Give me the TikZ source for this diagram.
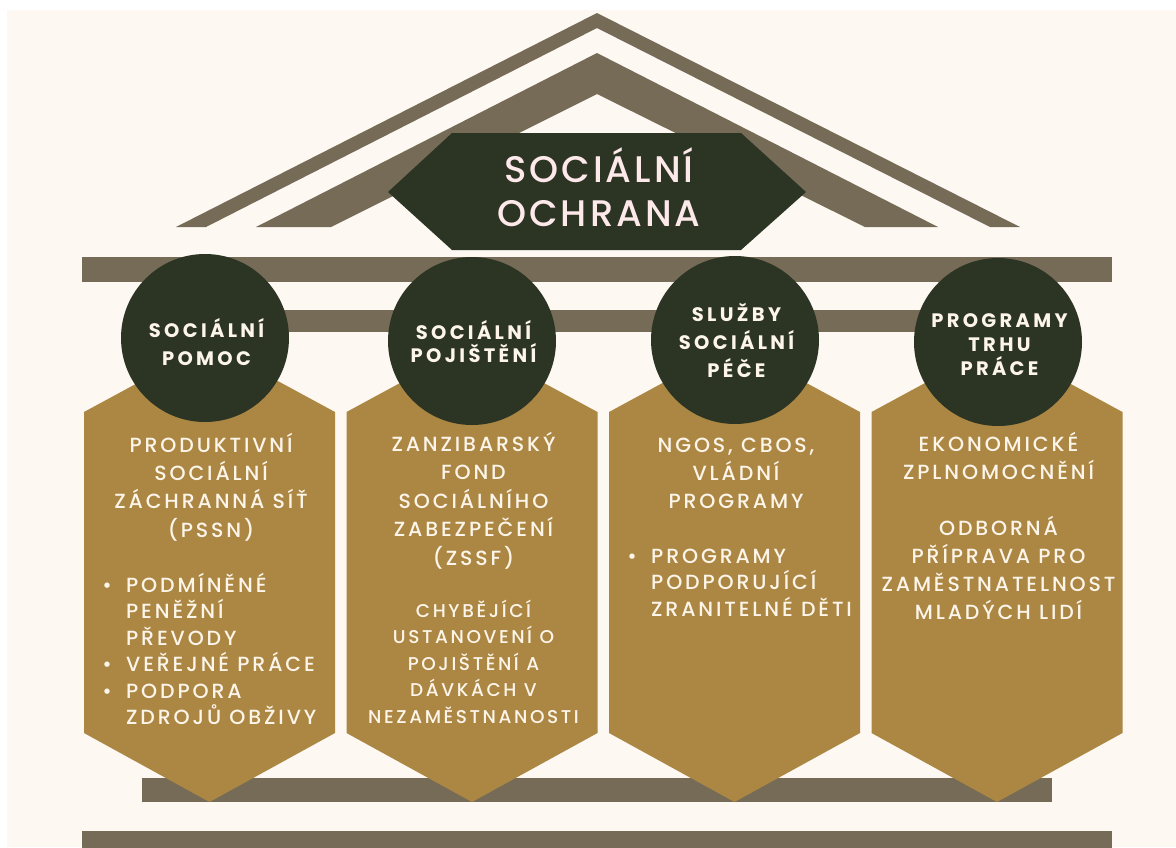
\documentclass[tikz,border=0pt]{standalone}
\usepackage{fontspec}
\setmainfont{Poppins}
\newfontfamily\boxfont[LetterSpace=14]{Poppins Medium}
\newfontfamily\circfont[LetterSpace=17]{Poppins}
\newfontfamily\titlefont[LetterSpace=8]{Poppins Medium}
\definecolor{cream}{HTML}{FDF8F2}
\definecolor{beamc}{HTML}{766B57}
\definecolor{gold}{HTML}{AB8743}
\definecolor{dark}{HTML}{2C3424}
\definecolor{txtc}{HTML}{FDF5EA}
\definecolor{titlec}{HTML}{FDE9EA}
\tikzset{
  beam/.style={fill=beamc},
  pillar/.style={fill=gold},
  medal/.style={circle, fill=dark, minimum size=168pt, inner sep=0pt},
  boxtxt/.style={text=txtc, font=\boxfont\fontsize{20.5}{28.3}\selectfont, align=center, inner sep=0pt, anchor=base},
  listtxt/.style={text=txtc, font=\boxfont\fontsize{20.5}{26.5}\selectfont, align=left, inner sep=0pt, anchor=base west},
  dotmark/.style={text=txtc, font=\boxfont\fontsize{20.5}{26.5}\selectfont, inner sep=0pt, anchor=base},
  circtxt/.style={text=txtc, font=\circfont\bfseries\fontsize{19.5}{28}\selectfont, align=center, inner sep=0pt, anchor=base},
  titletxt/.style={text=titlec, font=\titlefont\fontsize{37}{44}\selectfont, align=center, inner sep=0pt, anchor=base},
}
\begin{document}
\begin{tikzpicture}[x=1pt,y=-1pt]
\useasboundingbox (0,0) rectangle (1176,847);
\fill[white] (0,0) rectangle (1176,847);
\fill[cream] (7,10) rectangle (1176,847);
% roof
\fill[beamc] (176,227) -- (597,13) -- (1020,227) -- (990,227) -- (597,28) -- (206,227) -- cycle;
\fill[beamc] (256,227) -- (597,53) -- (938,227) -- (865,227) -- (597,94) -- (331,227) -- cycle;
% title
\fill[dark] (452,133) -- (741,133) -- (806,192) -- (741,250) -- (452,250) -- (388,192) -- cycle;
\node[titletxt] (title) at (599,226) {SOCIÁLNÍ\\OCHRANA};
% beams
\fill[beam] (82,257) rectangle (1112,282);
\fill[beam] (145,310) rectangle (1050,332);
\fill[beam] (142,778) rectangle (1052,802);
\fill[beam] (82,831) rectangle (1112,848);
% pillars
\foreach \cx in {209.5,472,734.5,997}{
  \fill[pillar] (\cx,344) -- (\cx+125.5,412) -- (\cx+125.5,733) -- (\cx,802) -- (\cx-125.5,733) -- (\cx-125.5,412) -- cycle;
}
% medals
\node[medal] (m1) at (205,338) {};
\node[medal] (m2) at (472,341) {};
\node[medal] (m3) at (735,340) {};
\node[medal] (m4) at (998,342) {};
\node[circtxt] (c1) at (206.5,365) {SOCIÁLNÍ\\POMOC};
\node[circtxt, font=\circfont\bfseries\fontsize{19.5}{23}\selectfont] (c2) at (473.5,362) {SOCIÁLNÍ\\POJIŠTĚNÍ};
\node[circtxt] (c3) at (736.5,377) {SLUŽBY\\SOCIÁLNÍ\\PÉČE};
\node[circtxt, font=\circfont\bfseries\fontsize{19.5}{24}\selectfont] (c4) at (999.5,375) {PROGRAMY\\TRHU\\PRÁCE};
% column 1
\node[boxtxt] (h1) at (211,537) {PRODUKTIVNÍ\\SOCIÁLNÍ\\ZÁCHRANNÁ SÍŤ\\(PSSN)};
\node[listtxt] (l1a) at (126,724.5) {PODMÍNĚNÉ\\PENĚŽNÍ\\PŘEVODY\\VEŘEJNÉ PRÁCE\\PODPORA\\ZDROJŮ OBŽIVY};
\node[dotmark] (d1a) at (107,592) {•};
\node[dotmark] (d1b) at (107,671.5) {•};
\node[dotmark] (d1c) at (107,698) {•};
% column 2
\node[boxtxt, font=\boxfont\fontsize{20.5}{28.5}\selectfont] (h2) at (473.5,565) {ZANZIBARSKÝ\\FOND\\SOCIÁLNÍHO\\ZABEZPEČENÍ\\(ZSSF)};
\node[boxtxt, font=\boxfont\fontsize{18.5}{26.5}\selectfont] (h2b) at (473.5,723) {CHYBĚJÍCÍ\\USTANOVENÍ O\\POJIŠTĚNÍ A\\DÁVKÁCH V\\NEZAMĚSTNANOSTI};
% column 3
\node[boxtxt] (h3) at (736,508.6) {NGOS, CBOS,\\VLÁDNÍ\\PROGRAMY};
\node[listtxt] (l3a) at (651,616) {PROGRAMY\\PODPORUJÍCÍ\\ZRANITELNÉ DĚTI};
\node[dotmark] (d3a) at (632,563) {•};
% column 4
\node[boxtxt, font=\boxfont\fontsize{20.5}{28}\selectfont] (h4) at (998.5,479) {EKONOMICKÉ\\ZPLNOMOCNĚNÍ};
\node[boxtxt, font=\boxfont\fontsize{20.5}{28}\selectfont] (h4b) at (998.5,619) {ODBORNÁ\\PŘÍPRAVA PRO\\ZAMĚSTNATELNOST\\MLADÝCH LIDÍ};
\end{tikzpicture}
\end{document}
